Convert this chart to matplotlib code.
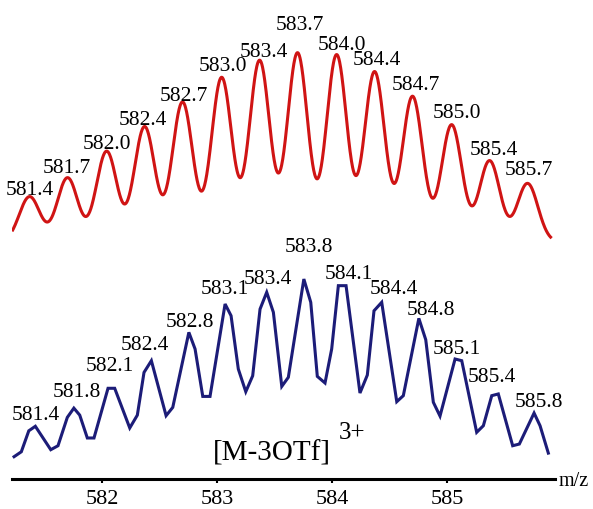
import numpy as np
import matplotlib
matplotlib.use("Agg")
import matplotlib.pyplot as plt

# simulated isotope envelope of [M-3OTf]3+ : peak centres (m/z) and relative heights (%)
sim_mz = [581.37, 581.70, 582.04, 582.37, 582.70, 583.04, 583.37,
          583.70, 584.04, 584.37, 584.70, 585.04, 585.37, 585.70]
sim_int = [24, 34, 48, 61, 74, 87, 96, 100, 99, 90, 77, 62, 43, 31]

# measured ESI-MS profile (vertices of the recorded trace), relative intensity (%)
obs_mz = [581.235, 581.298, 581.363, 581.420, 581.554, 581.617, 581.698, 581.755,
          581.806, 581.872, 581.930, 582.052, 582.110, 582.241, 582.307, 582.365,
          582.429, 582.557, 582.615, 582.755, 582.809, 582.876, 582.939, 583.070,
          583.122, 583.185, 583.250, 583.310, 583.374, 583.432, 583.490, 583.563,
          583.620, 583.755, 583.815, 583.872, 583.939, 583.997, 584.055, 584.122,
          584.243, 584.307, 584.365, 584.432, 584.563, 584.620, 584.755, 584.815,
          584.881, 584.939, 585.070, 585.128, 585.258, 585.316, 585.389, 585.446,
          585.571, 585.629, 585.757, 585.809, 585.881]
obs_int = [6.0, 8.6, 19.7, 22.1, 9.7, 11.8, 26.8, 31.7,
           28.0, 15.9, 15.9, 42.2, 42.2, 21.2, 28.0, 50.6,
           56.8, 27.7, 32.1, 71.8, 63.0, 37.9, 37.9, 86.8,
           80.6, 52.4, 40.4, 48.8, 84.1, 93.0, 82.4, 43.2,
           48.0, 100.0, 87.7, 48.5, 45.0, 63.0, 96.5, 96.5,
           39.7, 49.2, 83.2, 87.7, 35.1, 38.3, 79.2, 67.9,
           34.8, 27.5, 57.7, 56.8, 18.9, 22.4, 38.3, 39.2,
           11.8, 12.7, 29.1, 22.4, 7.9]

xticks = [582, 583, 584, 585]

# layout
XMIN, XMAX = 581.217, 585.939
SIM_END = 585.91
SIM_OFFSET = 125.4
OBS_OFFSET = 5.8
PEAK_SIGMA = 0.09
# label nudges (pixels, right / up) relative to each peak top
sim_nudge = [(0, 10), (-1, 13), (0, 10), (-2, 10), (1, 9), (1, 15), (4, 12),
             (2, 31), (5, 13), (2, 15), (3, 14), (5, 15), (4, 14), (1, 16)]
obs_nudge = [(0, 14), (3, 19), (-5, 25), (-6, 19), (1, 13), (0, 18), (1, 16),
             (5, 35), (3, 15), (12, 16), (12, 11), (2, 13), (-6, 20), (5, 14)]

RED = "#d01414"
NAVY = "#1c1c78"
SERIF = "Liberation Serif"
LBL = 15.5

fig = plt.figure(figsize=(5.93, 5.10), dpi=100)
ax = fig.add_axes([12 / 593, 30 / 510, 543 / 593, 470 / 510])

# simulated profile = sum of gaussian peaks
x = np.linspace(XMIN, SIM_END, 1500)
y = np.zeros_like(x)
for c, h in zip(sim_mz, sim_int):
    y += h * np.exp(-(x - c) ** 2 / (2 * PEAK_SIGMA ** 2))
ax.plot(x, y + SIM_OFFSET, color=RED, lw=2.2, solid_capstyle="butt")

ax.plot(obs_mz, np.array(obs_int) + OBS_OFFSET, color=NAVY, lw=2.2,
        solid_joinstyle="miter")

for c, h, (dx, dy) in zip(sim_mz, sim_int, sim_nudge):
    ax.annotate(f"{c:.1f}", (c, h + SIM_OFFSET), xytext=(dx, dy),
                textcoords="offset pixels", ha="center", va="center_baseline",
                fontsize=LBL, family=SERIF)

# apex vertices of the measured trace
apex = [i for i in range(1, len(obs_int) - 1)
        if obs_int[i] >= obs_int[i - 1] and obs_int[i] > obs_int[i + 1]]
for i, (dx, dy) in zip(apex, obs_nudge):
    ax.annotate(f"{obs_mz[i]:.1f}", (obs_mz[i], obs_int[i] + OBS_OFFSET),
                xytext=(dx, dy), textcoords="offset pixels", ha="center",
                va="center_baseline", fontsize=LBL, family=SERIF)

ax.set_xlim(XMIN, XMAX)
ax.set_ylim(0, 248.7)
for s in ("left", "right", "top"):
    ax.spines[s].set_visible(False)
ax.spines["bottom"].set_linewidth(2.2)
ax.set_yticks([])
ax.set_xticks(xticks)
ax.set_xticklabels([str(t) for t in xticks], family=SERIF, fontsize=16)
ax.tick_params(axis="x", direction="out", length=3, width=1.5, pad=4)

fig.text(213 / 593, 1 - 454 / 510, "[M-3OTf]", family=SERIF, fontsize=21,
         ha="left", va="center")
fig.text(339 / 593, 1 - 433 / 510, "3+", family=SERIF, fontsize=18,
         ha="left", va="center")
fig.text(559 / 593, 1 - 482 / 510, "m/z", family=SERIF, fontsize=14.5,
         ha="left", va="center")

fig.savefig("out.png", dpi=100)
